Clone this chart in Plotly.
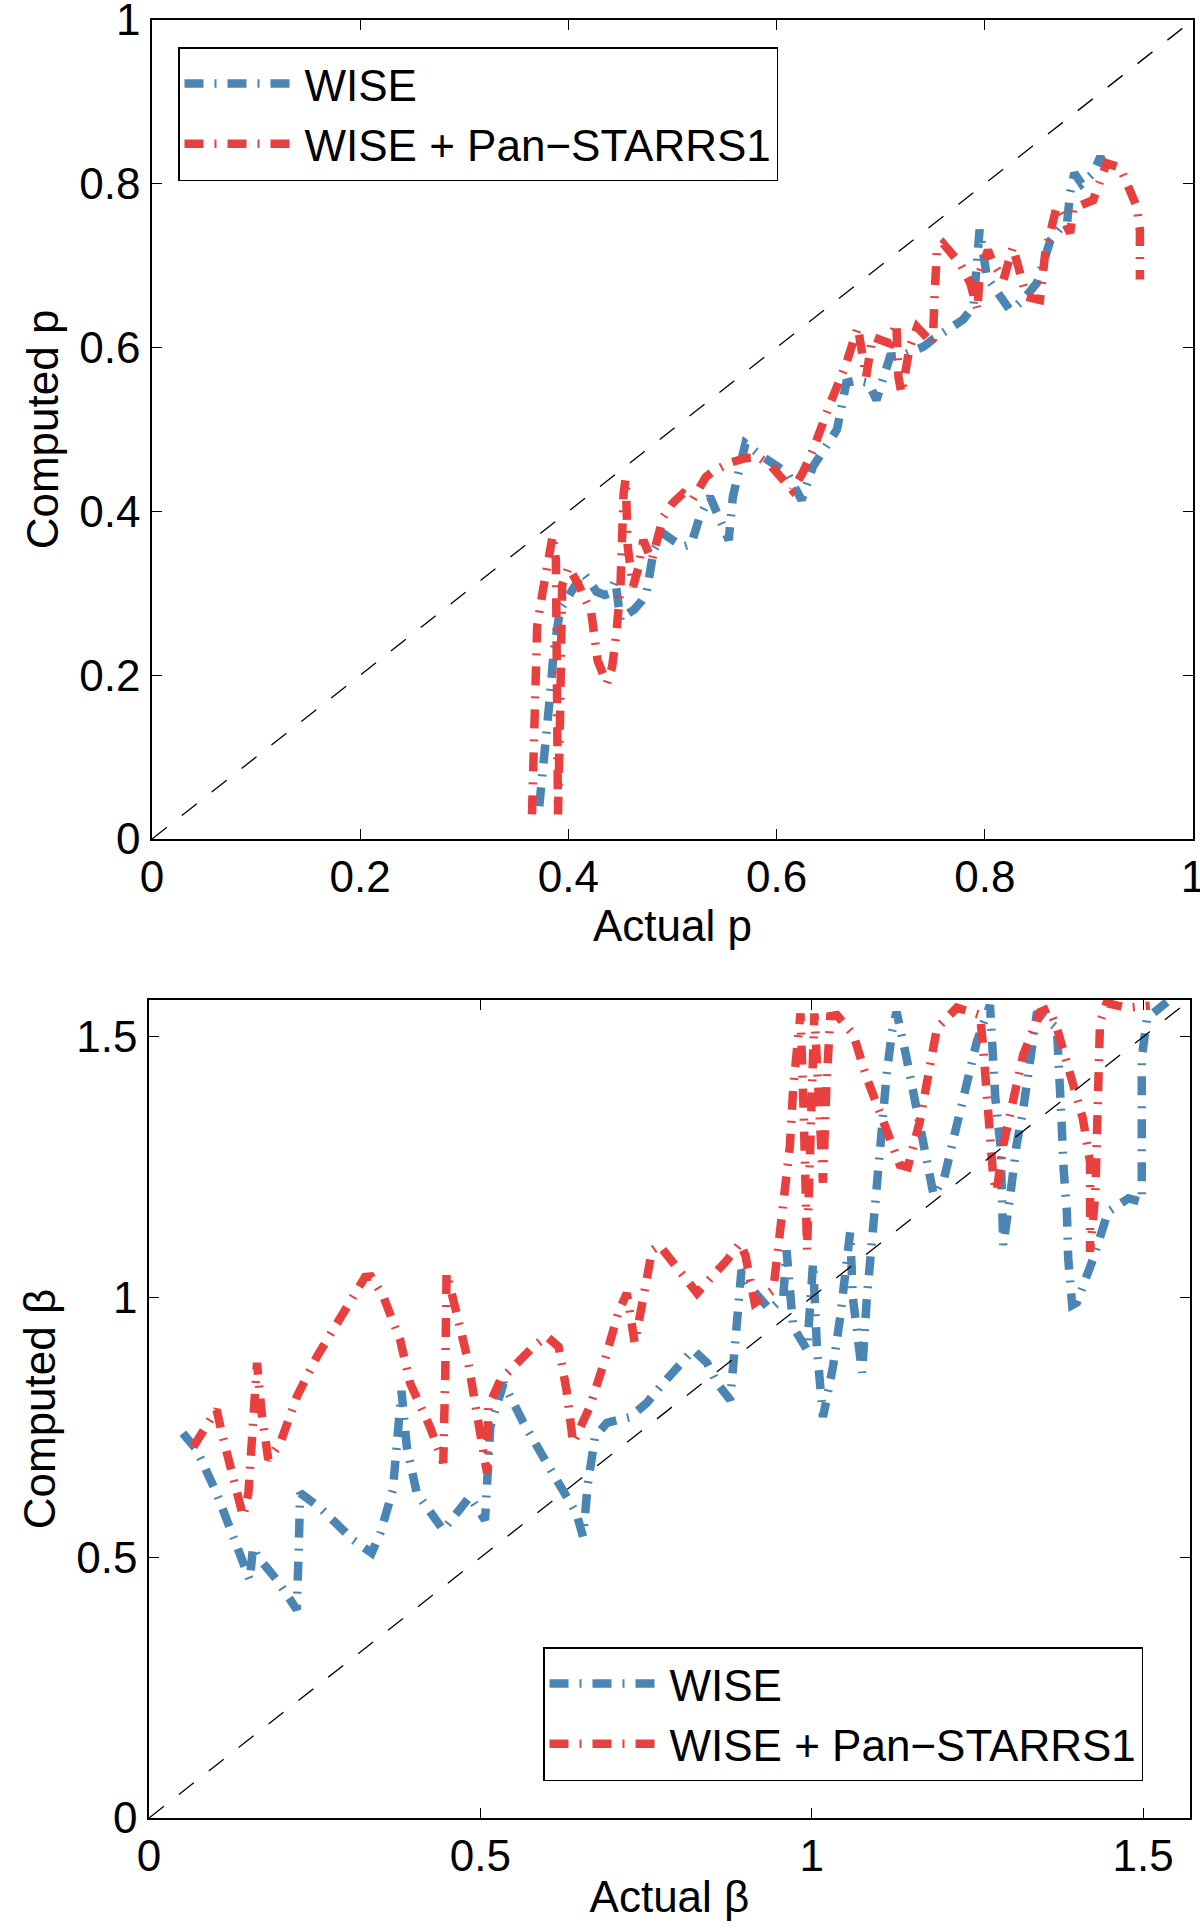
import numpy as np
import plotly.graph_objects as go

# ---- top panel: actual p vs computed p ----
p_wise_x = [0.372, 0.378, 0.382, 0.386, 0.392, 0.398, 0.407, 0.414, 0.42, 0.427,
            0.435, 0.44, 0.445, 0.45, 0.457, 0.463, 0.47, 0.475, 0.482, 0.491,
            0.50, 0.51, 0.518, 0.526, 0.536, 0.546, 0.554, 0.558, 0.563, 0.57,
            0.583, 0.597, 0.61, 0.624, 0.635, 0.647, 0.658, 0.667, 0.677, 0.688,
            0.696, 0.703, 0.709, 0.72, 0.73, 0.741, 0.75, 0.76, 0.77, 0.779,
            0.789, 0.795, 0.802, 0.81, 0.818, 0.824, 0.831, 0.838, 0.85, 0.857,
            0.863, 0.872, 0.879, 0.882, 0.886, 0.893, 0.898, 0.904, 0.911, 0.916]
p_wise_y = [0.04, 0.11, 0.17, 0.23, 0.28, 0.292, 0.31, 0.325, 0.315, 0.302,
            0.298, 0.30, 0.316, 0.267, 0.275, 0.28, 0.29, 0.30, 0.353, 0.373,
            0.365, 0.357, 0.36, 0.393, 0.418, 0.39, 0.365, 0.418, 0.45, 0.483,
            0.47, 0.459, 0.447, 0.414, 0.455, 0.478, 0.50, 0.557, 0.56, 0.557,
            0.536, 0.565, 0.589, 0.59, 0.595, 0.601, 0.61, 0.618, 0.626, 0.634,
            0.65, 0.744, 0.686, 0.67, 0.655, 0.646, 0.652, 0.66, 0.679, 0.705,
            0.731, 0.745, 0.752, 0.789, 0.813, 0.80, 0.805, 0.813, 0.833, 0.82]

p_ps1_x = [0.365, 0.367, 0.370, 0.375, 0.38, 0.385, 0.388, 0.389, 0.39, 0.392,
           0.394, 0.40, 0.41, 0.422, 0.428, 0.437, 0.442, 0.446, 0.45, 0.453,
           0.455, 0.457, 0.462, 0.467, 0.472, 0.48, 0.491, 0.50, 0.51, 0.519,
           0.532, 0.538, 0.554, 0.57, 0.583, 0.595, 0.608, 0.615, 0.625, 0.635,
           0.65, 0.667, 0.678, 0.683, 0.686, 0.692, 0.70, 0.709, 0.715, 0.717,
           0.72, 0.728, 0.735, 0.744, 0.75, 0.752, 0.754, 0.76, 0.768, 0.776,
           0.786, 0.793, 0.795, 0.803, 0.808, 0.818, 0.827, 0.833, 0.84, 0.853,
           0.858, 0.869, 0.882, 0.885, 0.904, 0.917, 0.93, 0.946, 0.949, 0.949]
p_ps1_y = [0.03, 0.15, 0.26, 0.30, 0.344, 0.371, 0.34, 0.20, 0.03, 0.15,
           0.31, 0.332, 0.31, 0.276, 0.218, 0.19, 0.21, 0.25, 0.308, 0.422,
           0.44, 0.357, 0.308, 0.33, 0.365, 0.34, 0.393, 0.41, 0.422, 0.414,
           0.442, 0.448, 0.459, 0.465, 0.466, 0.455, 0.435, 0.426, 0.447, 0.475,
           0.527, 0.581, 0.625, 0.593, 0.564, 0.613, 0.608, 0.605, 0.63, 0.564,
           0.544, 0.601, 0.625, 0.613, 0.605, 0.67, 0.719, 0.727, 0.715, 0.703,
           0.679, 0.646, 0.691, 0.719, 0.703, 0.683, 0.723, 0.69, 0.662, 0.658,
           0.715, 0.772, 0.74, 0.77, 0.78, 0.825, 0.82, 0.772, 0.743, 0.683]

# ---- bottom panel: actual beta vs computed beta ----
b_wise_x = [0.051, 0.072, 0.102, 0.127, 0.152, 0.157, 0.165, 0.193, 0.223, 0.226,
            0.228, 0.258, 0.308, 0.336, 0.349, 0.368, 0.381, 0.389, 0.404, 0.444,
            0.484, 0.507, 0.515, 0.535, 0.565, 0.60, 0.625, 0.645, 0.655, 0.662,
            0.673, 0.691, 0.726, 0.751, 0.776, 0.821, 0.842, 0.857, 0.877, 0.884,
            0.889, 0.894, 0.911, 0.937, 0.957, 0.962, 0.972, 0.993, 1.002, 1.008,
            1.017, 1.032, 1.043, 1.058, 1.062, 1.076, 1.083, 1.093, 1.10, 1.113,
            1.121, 1.128, 1.143, 1.156, 1.171, 1.184, 1.20, 1.216, 1.234, 1.249,
            1.269, 1.272, 1.277, 1.285, 1.289, 1.299, 1.309, 1.319, 1.329, 1.34,
            1.37, 1.372, 1.377, 1.38, 1.385, 1.387, 1.393, 1.40, 1.425, 1.447,
            1.478, 1.498, 1.498, 1.506, 1.536]
b_wise_y = [0.739, 0.707, 0.624, 0.54, 0.457, 0.52, 0.50, 0.457, 0.40, 0.52,
            0.624, 0.596, 0.534, 0.509, 0.547, 0.63, 0.82, 0.713, 0.624, 0.553,
            0.617, 0.572, 0.751, 0.835, 0.759, 0.682, 0.624, 0.585, 0.54, 0.64,
            0.732, 0.759, 0.77, 0.797, 0.835, 0.899, 0.874, 0.835, 0.803, 0.899,
            0.989, 1.052, 1.014, 0.976, 1.0, 1.09, 0.943, 0.899, 1.066, 0.9,
            0.77, 0.866, 0.962, 1.125, 1.0, 0.855, 0.995, 1.155, 1.248, 1.427,
            1.509, 1.548, 1.46, 1.375, 1.287, 1.196, 1.23, 1.317, 1.402, 1.49,
            1.561, 1.47, 1.383, 1.29, 1.1, 1.19, 1.292, 1.36, 1.46, 1.548,
            1.517, 1.43, 1.337, 1.248, 1.164, 1.075, 0.985, 0.99, 1.075, 1.164,
            1.19, 1.183, 1.46, 1.536, 1.567]

b_ps1_x = [0.067, 0.087, 0.102, 0.11, 0.125, 0.142, 0.15, 0.155, 0.16, 0.163,
           0.17, 0.18, 0.198, 0.223, 0.253, 0.288, 0.326, 0.335, 0.354, 0.379,
           0.394, 0.424, 0.444, 0.447, 0.449, 0.464, 0.481, 0.492, 0.504, 0.51,
           0.512, 0.53, 0.58, 0.60, 0.618, 0.63, 0.64, 0.665, 0.688, 0.708,
           0.721, 0.733, 0.746, 0.759, 0.77, 0.789, 0.827, 0.872, 0.892, 0.90,
           0.914, 0.942, 0.952, 0.96, 0.967, 0.972, 0.978, 0.983, 0.988, 0.993,
           0.998, 1.004, 1.01, 1.017, 1.022, 1.028, 1.038, 1.063, 1.083, 1.108,
           1.133, 1.145, 1.163, 1.176, 1.189, 1.219, 1.254, 1.258, 1.262, 1.269,
           1.274, 1.279, 1.289, 1.304, 1.319, 1.345, 1.358, 1.37, 1.39, 1.409,
           1.42, 1.42, 1.42, 1.428, 1.43, 1.433, 1.435, 1.445, 1.475, 1.51]
b_ps1_y = [0.713, 0.751, 0.784, 0.739, 0.663, 0.579, 0.624, 0.707, 0.822, 0.874,
           0.778, 0.688, 0.72, 0.809, 0.885, 0.962, 1.039, 1.04, 1.0, 0.918,
           0.835, 0.751, 0.682, 0.85, 1.047, 0.97, 0.88, 0.797, 0.707, 0.663,
           0.789, 0.841, 0.905, 0.925, 0.905, 0.822, 0.72, 0.789, 0.88, 0.97,
           1.008, 0.912, 1.0, 1.09, 1.1, 1.071, 1.008, 1.071, 1.104, 1.08,
           0.989, 1.014, 1.116, 1.2, 1.29, 1.40, 1.50, 1.545, 1.35, 1.09,
           1.30, 1.545, 1.40, 1.22, 1.40, 1.54, 1.542, 1.504, 1.421, 1.337,
           1.254, 1.25, 1.337, 1.427, 1.517, 1.556, 1.542, 1.49, 1.402, 1.312,
           1.229, 1.203, 1.292, 1.383, 1.465, 1.548, 1.555, 1.517, 1.427, 1.344,
           1.26, 1.17, 1.087, 1.2, 1.356, 1.45, 1.529, 1.565, 1.556, 1.56]

p_ticks = [0, 0.2, 0.4, 0.6, 0.8, 1]
p_ticktext = ["0", "0.2", "0.4", "0.6", "0.8", "1"]
b_ticks = [0, 0.5, 1, 1.5]
b_ticktext = ["0", "0.5", "1", "1.5"]
b_max = np.pi / 2

names = ["WISE", "WISE + Pan\u2212STARRS1"]
blue = "#4a85b4"
red = "#e8403f"
dashdot = "19px,11px,2px,11px"
font = "Liberation Sans, Arial, Helvetica, sans-serif"

fig = go.Figure()

def add_pair(xa, ya, x1, y1, x2, y2, legend):
    fig.add_trace(go.Scatter(x=x1, y=y1, mode="lines", name=names[0],
                             line=dict(color=blue, width=8.5, dash=dashdot),
                             xaxis=xa, yaxis=ya, legend=legend))
    fig.add_trace(go.Scatter(x=x2, y=y2, mode="lines", name=names[1],
                             line=dict(color=red, width=8.5, dash=dashdot),
                             xaxis=xa, yaxis=ya, legend=legend))

add_pair("x", "y", p_wise_x, p_wise_y, p_ps1_x, p_ps1_y, "legend")
fig.add_trace(go.Scatter(x=[0, 1], y=[0, 1], mode="lines", showlegend=False,
                         line=dict(color="black", width=1.3, dash="19px,19px"),
                         xaxis="x", yaxis="y"))
add_pair("x2", "y2", b_wise_x, b_wise_y, b_ps1_x, b_ps1_y, "legend2")
fig.add_trace(go.Scatter(x=[0, b_max], y=[0, b_max], mode="lines", showlegend=False,
                         line=dict(color="black", width=1.3, dash="19px,19px"),
                         xaxis="x2", yaxis="y2"))

axis_style = dict(showgrid=False, zeroline=False, showline=True, linecolor="black",
                  linewidth=1.6, mirror="ticks", ticks="inside", ticklen=10,
                  tickwidth=1.2, tickcolor="black", automargin=False,
                  ticklabeloverflow="allow",
                  tickfont=dict(size=44, color="black", family=font),
                  title_font=dict(size=44, color="black", family=font))

W, H = 1200, 1928
legend_style = dict(xanchor="left", yanchor="top", bgcolor="white",
                    bordercolor="black", borderwidth=1.5, itemwidth=115,
                    font=dict(size=44, family=font, color="black"))
fig.update_layout(
    width=W, height=H,
    margin=dict(l=0, r=0, t=0, b=0),
    paper_bgcolor="white", plot_bgcolor="white",
    font=dict(family=font, size=44, color="black"),
    xaxis=dict(axis_style, domain=[152 / W, 1193 / W], range=[0, 1],
               tickvals=p_ticks, ticktext=p_ticktext, anchor="y",
               title=dict(text="Actual p", standoff=3), ticklabelstandoff=-2),
    yaxis=dict(axis_style, domain=[1 - 839 / H, 1 - 20 / H], range=[0, 1],
               tickvals=p_ticks, ticktext=p_ticktext, anchor="x",
               title=dict(text="Computed p", standoff=7), ticklabelstandoff=1),
    xaxis2=dict(axis_style, domain=[149 / W, 1190 / W], range=[0, b_max],
                tickvals=b_ticks, ticktext=b_ticktext, anchor="y2",
                title=dict(text="Actual \u03b2", standoff=3), ticklabelstandoff=-2),
    yaxis2=dict(axis_style, domain=[1 - 1818 / H, 1 - 1000 / H], range=[0, b_max],
                tickvals=b_ticks, ticktext=b_ticktext, anchor="x2",
                title=dict(text="Computed \u03b2", standoff=7), ticklabelstandoff=1),
    legend=dict(legend_style, x=178 / W, y=1 - 47 / H),
    legend2=dict(legend_style, x=543 / W, y=1 - 1647 / H),
)

fig.write_html("out.html", config={"displayModeBar": False},
               post_script="document.body.style.margin='0';")
